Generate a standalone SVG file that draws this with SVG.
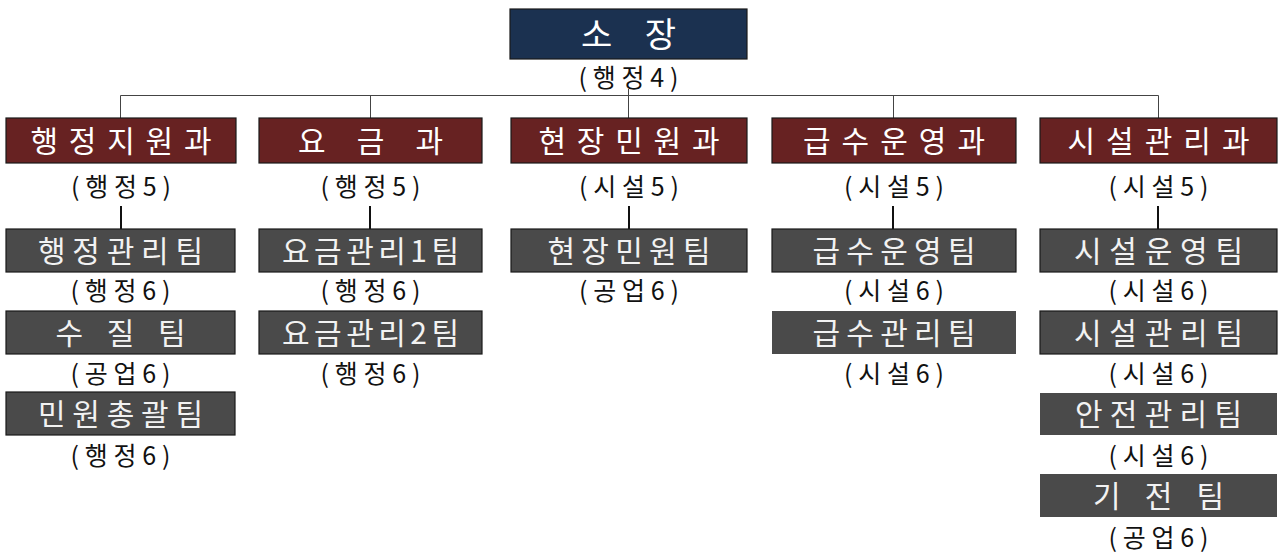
<svg xmlns="http://www.w3.org/2000/svg" width="1279" height="553" viewBox="0 0 1279 553">
<style>
text{font-family:"Noto Sans CJK KR","Noto Sans CJK SC",sans-serif;text-anchor:middle}
.t{fill:#ffffff;font-size:34px}
.d{fill:#ffffff;font-size:30px}
.m{fill:#f2f2f2;font-size:30px}
.l{fill:#111111;font-size:25px}
.top{fill:#1b3150;stroke:#1a1a1a;stroke-width:1.2}
.dept{fill:#672222;stroke:#1a1a1a;stroke-width:1.2}
.team{fill:#4a4a4a;stroke:#1a1a1a;stroke-width:1.2}
.teamn{fill:#4a4a4a}
.c1{stroke:#444444;stroke-width:1;fill:none}
.c2{stroke:#111111;stroke-width:2;fill:none}
</style>
<rect width="1279" height="553" fill="#ffffff"/>
<g id="connectors">
<path class="c1" d="M628.5 89V95.5M120.5 95.5H1158.5M120.5 95.5V118M370.5 95.5V118M628.5 95.5V118M893.5 95.5V118M1158.5 95.5V118"/>
<path class="c2" d="M121 206V229M370 206V229M629 206V229M893 206V229M1158 206V229"/>
</g>
<g id="head">
<rect class="top" x="510" y="9" width="237" height="50"/>
<text class="t" x="628.5" y="47" textLength="95" lengthAdjust="spacing">소 장</text>
<text class="l" x="628.5" y="87" textLength="100" lengthAdjust="spacing">(행정4)</text>
</g>
<g id="dept1">
<rect class="dept" x="6" y="118" width="230" height="45"/>
<text class="d" x="121" y="152" textLength="181" lengthAdjust="spacing">행정지원과</text>
<text class="l" x="121" y="195.5" textLength="100" lengthAdjust="spacing">(행정5)</text>
</g>
<g id="dept2">
<rect class="dept" x="259" y="118" width="223" height="45"/>
<text class="d" x="370.5" y="152" textLength="145" lengthAdjust="spacing">요 금 과</text>
<text class="l" x="370.5" y="195.5" textLength="100" lengthAdjust="spacing">(행정5)</text>
</g>
<g id="dept3">
<rect class="dept" x="511" y="118" width="236" height="45"/>
<text class="d" x="629" y="152" textLength="181" lengthAdjust="spacing">현장민원과</text>
<text class="l" x="629" y="195.5" textLength="100" lengthAdjust="spacing">(시설5)</text>
</g>
<g id="dept4">
<rect class="dept" x="772" y="118" width="244" height="45"/>
<text class="d" x="894" y="152" textLength="182" lengthAdjust="spacing">급수운영과</text>
<text class="l" x="894" y="195.5" textLength="100" lengthAdjust="spacing">(시설5)</text>
</g>
<g id="dept5">
<rect class="dept" x="1040" y="118" width="237" height="45"/>
<text class="d" x="1158.5" y="152" textLength="182" lengthAdjust="spacing">시설관리과</text>
<text class="l" x="1158.5" y="195.5" textLength="100" lengthAdjust="spacing">(시설5)</text>
</g>
<g id="team-1-1">
<rect class="team" x="6" y="229" width="229" height="43"/>
<text class="m" x="120.5" y="262" textLength="165" lengthAdjust="spacing">행정관리팀</text>
<text class="l" x="120.5" y="300" textLength="100" lengthAdjust="spacing">(행정6)</text>
</g>
<g id="team-1-2">
<rect class="team" x="6" y="311" width="229" height="43"/>
<text class="m" x="120.5" y="344" textLength="130" lengthAdjust="spacing">수 질 팀</text>
<text class="l" x="120.5" y="382.5" textLength="100" lengthAdjust="spacing">(공업6)</text>
</g>
<g id="team-1-3">
<rect class="team" x="6" y="392" width="229" height="43"/>
<text class="m" x="120.5" y="425" textLength="165" lengthAdjust="spacing">민원총괄팀</text>
<text class="l" x="120.5" y="464.5" textLength="100" lengthAdjust="spacing">(행정6)</text>
</g>
<g id="team-2-1">
<rect class="team" x="259" y="229" width="223" height="43"/>
<text class="m" x="370.5" y="262" textLength="177" lengthAdjust="spacing">요금관리1팀</text>
<text class="l" x="370.5" y="300" textLength="100" lengthAdjust="spacing">(행정6)</text>
</g>
<g id="team-2-2">
<rect class="team" x="259" y="311" width="223" height="43"/>
<text class="m" x="370.5" y="344" textLength="177" lengthAdjust="spacing">요금관리2팀</text>
<text class="l" x="370.5" y="382.5" textLength="100" lengthAdjust="spacing">(행정6)</text>
</g>
<g id="team-3-1">
<rect class="team" x="511" y="229" width="236" height="43"/>
<text class="m" x="629" y="262" textLength="163" lengthAdjust="spacing">현장민원팀</text>
<text class="l" x="629" y="300" textLength="100" lengthAdjust="spacing">(공업6)</text>
</g>
<g id="team-4-1">
<rect class="team" x="772" y="229" width="244" height="43"/>
<text class="m" x="894" y="262" textLength="163" lengthAdjust="spacing">급수운영팀</text>
<text class="l" x="894" y="300" textLength="100" lengthAdjust="spacing">(시설6)</text>
</g>
<g id="team-4-2">
<rect class="teamn" x="772" y="311" width="244" height="43"/>
<text class="m" x="894" y="344" textLength="163" lengthAdjust="spacing">급수관리팀</text>
<text class="l" x="894" y="382.5" textLength="100" lengthAdjust="spacing">(시설6)</text>
</g>
<g id="team-5-1">
<rect class="team" x="1040" y="229" width="237" height="43"/>
<text class="m" x="1158.5" y="262" textLength="169" lengthAdjust="spacing">시설운영팀</text>
<text class="l" x="1158.5" y="300" textLength="100" lengthAdjust="spacing">(시설6)</text>
</g>
<g id="team-5-2">
<rect class="team" x="1040" y="311" width="237" height="43"/>
<text class="m" x="1158.5" y="344" textLength="169" lengthAdjust="spacing">시설관리팀</text>
<text class="l" x="1158.5" y="382.5" textLength="100" lengthAdjust="spacing">(시설6)</text>
</g>
<g id="team-5-3">
<rect class="teamn" x="1040" y="393" width="237" height="42"/>
<text class="m" x="1158.5" y="425" textLength="167" lengthAdjust="spacing">안전관리팀</text>
<text class="l" x="1158.5" y="464.5" textLength="100" lengthAdjust="spacing">(시설6)</text>
</g>
<g id="team-5-4">
<rect class="teamn" x="1040" y="474" width="237" height="43"/>
<text class="m" x="1158.5" y="507" textLength="131" lengthAdjust="spacing">기 전 팀</text>
<text class="l" x="1158.5" y="546.5" textLength="100" lengthAdjust="spacing">(공업6)</text>
</g>
</svg>
